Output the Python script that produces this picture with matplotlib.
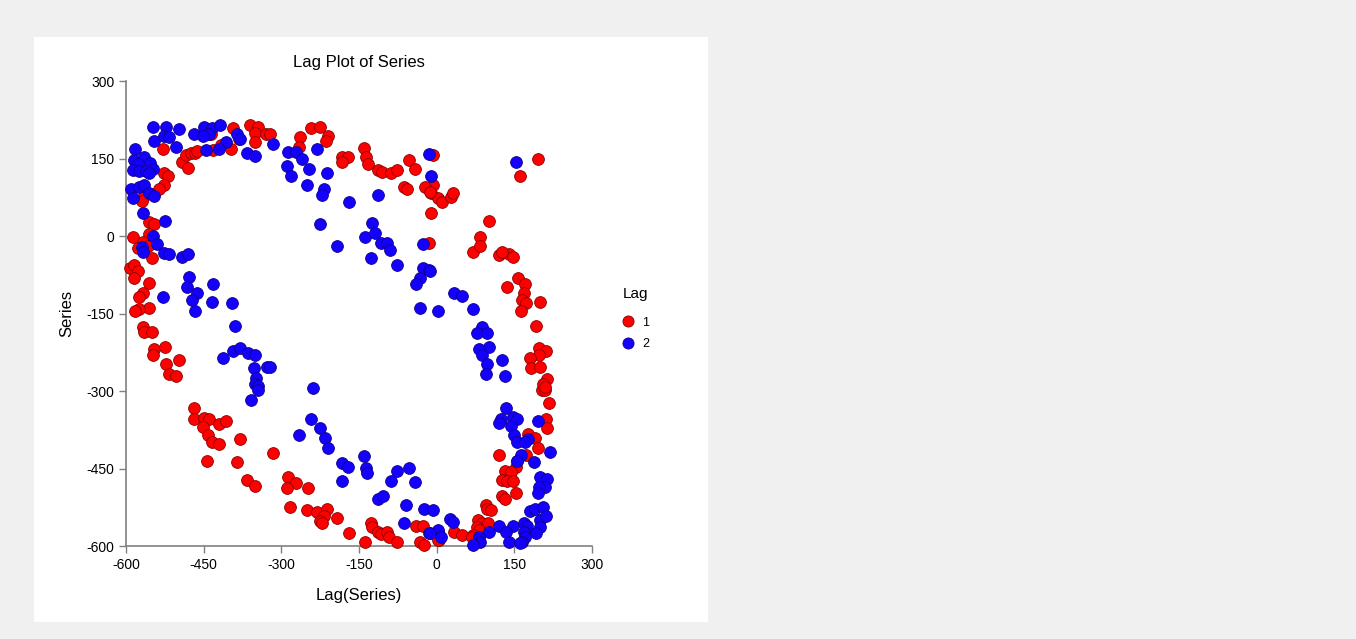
import matplotlib
matplotlib.use("Agg")
import matplotlib.pyplot as plt
from matplotlib.patches import Rectangle
from matplotlib.lines import Line2D

plt.rcParams['font.family'] = ['Liberation Sans', 'DejaVu Sans']
plt.rcParams['axes.unicode_minus'] = False

# Lag 1 points (x = Lag(Series), y = Series)
lag1_x = [-529, -492, -481, -485, -475, -467, -462, -436, -431, -417, -398, -394, -382, -361, -346, -351, -351, -330,
          -527, -519, -527, -537, -566, -570, -556, -545, -587, -556, -568, -546, -558, -577, -550,
          -593, -585, -577, -585, -556, -568, -574, -556, -575, -583, -568, -566, -550, -545, -548, -525, -523, -516, -504, -498,
          -469, -469, -450, -440, -452, -442, -421, -406, -434, -421, -380, -317, -444, -386, -367, -351,
          -288, -272, -290, -249, -284, -251, -232, -212, -218, -226, -222, -193, -170, -139, -126, -124, -114, -108, -95, -93, -77,
          -39, -27, -33, -25, 4,
          203, 210, 216, 212, 214, 176, 189, 195, 120, 172, 156, 153, 131, 143, 126, 135, 147, 153, 126, 131, 95, 98, 104,
          79, 87, 100, 77, 81, 71, 33, 48, 68, 2,
          70, 120, 139, 147, 158, 170, 135, 168, 164, 172, 199, 162, 191, 197, 212, 197, 180, 183, 199, 214, 205, 210,
          195, 160, -8, -8, -10, 2, 10, 27, 31, -10, 102, 83, 83, 126,
          -243, -226, -263, -209, -214, -266, -182, -172, -182, -141, -137, -133, -114, -106, -89, -77, -54, -42, -64, -58, -23, -12, -15, -321]
lag1_y = [168, 143, 132, 157, 161, 161, 164, 197, 166, 176, 168, 209, 188, 215, 211, 199, 182, 197,
          122, 116, 99, 91, 77, 68, 27, 23, -2, 4, -12, -14, -19, -23, -43,
          -62, -56, -68, -81, -91, -110, -118, -139, -141, -145, -176, -186, -186, -219, -230, -215, -248, -267, -271, -240,
          -333, -354, -352, -354, -370, -385, -364, -358, -399, -402, -393, -420, -435, -437, -472, -484,
          -466, -478, -488, -488, -524, -530, -534, -528, -542, -551, -555, -546, -575, -592, -555, -563, -573, -577, -573, -582, -592,
          -561, -561, -592, -598, -588,
          -298, -298, -323, -354, -372, -383, -391, -410, -424, -424, -435, -447, -455, -457, -472, -474, -474, -497, -503, -509, -521, -528, -530,
          -550, -555, -555, -563, -569, -579, -573, -579, -582, -588,
          -31, -37, -35, -41, -81, -93, -99, -110, -124, -130, -128, -145, -174, -217, -223, -230, -236, -255, -253, -277, -286, -292,
          149, 116, 157, 99, 83, 74, 66, 75, 83, 45, 29, -2, -19, -31,
          209, 211, 192, 194, 184, 172, 153, 153, 143, 170, 153, 139, 128, 124, 122, 128, 147, 130, 95, 91, 95, 85, -14, 197]

# Lag 2 points
lag2_x = [-548, -523, -498, -527, -516, -545, -504, -469, -450, -433, -440, -452, -419, -406, -386, -380, -317, -367, -351, -446, -421,
          -583, -585, -566, -554, -577, -548, -587, -574, -562, -556, -591, -575, -566, -556, -545, -587, -568, -525,
          -548, -541, -570, -568, -527, -517, -492, -481,
          -288, -272, -261, -232, -290, -282, -247, -212, -251, -218, -222, -170, -114, -226, -124, -139, -120, -108, -95, -91, -193, -126, -27, -15, -10,
          -479, -483, -462, -473, -467, -431, -433, -529, -396, -390, -413, -394, -380, -365, -351, -353, -328, -348, -351, -346, -359,
          -77, -27, -15, -33, -39, -33, 2, -321, -238,
          -12, 33, 48, 70, 87, 77, 98, 102, 81, 87, 98, 127, 95, 131,
          -243, -226, -216, -209, -265, -141, -183, -172, -137, -135, -183, -77, -54, -89, -42, -114, -104, -60, -64, -25, -8, -14, 2,
          -346,
          133, 124, 120, 147, 156, 143, 195, 149, 156, 176, 170, 162, 156, 187, 218, 199, 214, 210, 197, 195,
          25, 31, 120, 147, 168, 174, 180, 189, 205, 199, 212, 199, 191, 133, 168, 170, 164, 139, 160, 102, 81, 83, 70, 2, 8, -12,
          154]
lag2_y = [211, 211, 207, 194, 192, 184, 172, 197, 211, 209, 197, 194, 215, 182, 197, 188, 178, 161, 155, 166, 168,
          168, 147, 153, 141, 139, 130, 128, 126, 126, 122, 91, 95, 99, 83, 77, 74, 45, 29,
          0, -15, -21, -31, -33, -35, -41, -35,
          163, 163, 149, 168, 135, 116, 130, 122, 99, 91, 79, 66, 79, 23, 25, -2, 6, -14, -14, -27, -19, -43, -15, 159, 116,
          -79, -99, -110, -124, -145, -93, -128, -118, -130, -174, -236, -223, -217, -226, -230, -255, -253, -275, -286, -290, -317,
          -56, -62, -66, -81, -93, -139, -145, -253, -294,
          -68, -110, -116, -141, -176, -188, -188, -215, -219, -230, -248, -240, -267, -271,
          -354, -372, -391, -410, -385, -426, -439, -447, -449, -459, -474, -455, -449, -474, -476, -509, -503, -521, -555, -528, -530, -575, -573,
          -298,
          -333, -354, -362, -350, -354, -368, -358, -385, -399, -393, -399, -424, -435, -437, -418, -466, -470, -486, -486, -497,
          -548, -553, -561, -561, -555, -561, -532, -528, -524, -550, -542, -563, -575, -573, -573, -582, -592, -592, -594, -573, -582, -592, -598, -569, -582, -575,
          143]

x_ticks = [-600, -450, -300, -150, 0, 150, 300]
y_ticks = [-600, -450, -300, -150, 0, 150, 300]
legend_labels = ['1', '2']

fig = plt.figure(figsize=(13.56, 6.39), dpi=100)
fig.patch.set_facecolor('#f0f0f0')
fig.patches.append(Rectangle((0.0251, 0.0266), 0.4970, 0.9154, transform=fig.transFigure,
                             facecolor='white', edgecolor='none', zorder=-10))

ax = fig.add_axes([0.0929, 0.1455, 0.3437, 0.7277])
ax.set_zorder(2)
ax.set_facecolor('white')
ax.scatter(lag1_x, lag1_y, s=72, c='#ff0000', edgecolors='#8b0000', linewidths=0.6, zorder=3, clip_on=False)
ax.scatter(lag2_x, lag2_y, s=72, c='#1400ff', edgecolors='#10008a', linewidths=0.6, zorder=3, clip_on=False)

ax.set_xlim(-600, 300)
ax.set_ylim(-600, 300)
ax.set_xticks(x_ticks)
ax.set_yticks(y_ticks)
for s in ['top', 'right']:
    ax.spines[s].set_visible(False)
for s in ['left', 'bottom']:
    ax.spines[s].set_color('#808080')
    ax.spines[s].set_linewidth(1.2)
ax.tick_params(axis='both', direction='out', length=5, width=1, color='#808080', labelsize=10, labelcolor='black')
ax.set_title('Lag Plot of Series', fontsize=12, pad=10)
ax.set_xlabel('Lag(Series)', fontsize=12, labelpad=12)
ax.set_ylabel('Series', fontsize=12, labelpad=9)

handles = [Line2D([0], [0], marker='o', linestyle='none', markersize=8, markerfacecolor='#ff0000',
                  markeredgecolor='#8b0000', markeredgewidth=0.6),
           Line2D([0], [0], marker='o', linestyle='none', markersize=8, markerfacecolor='#1400ff',
                  markeredgecolor='#10008a', markeredgewidth=0.6)]
fig.text(0.4595, 1 - 294 / 639, 'Lag', fontsize=11, ha='left', va='center')
leg = fig.legend(handles, legend_labels, loc='upper left', bbox_to_anchor=(0.449, 0.522),
                 frameon=False, fontsize=9, handletextpad=0.55, labelspacing=0.75, handlelength=1.2)

fig.savefig('out.png', dpi=100, facecolor=fig.get_facecolor())
